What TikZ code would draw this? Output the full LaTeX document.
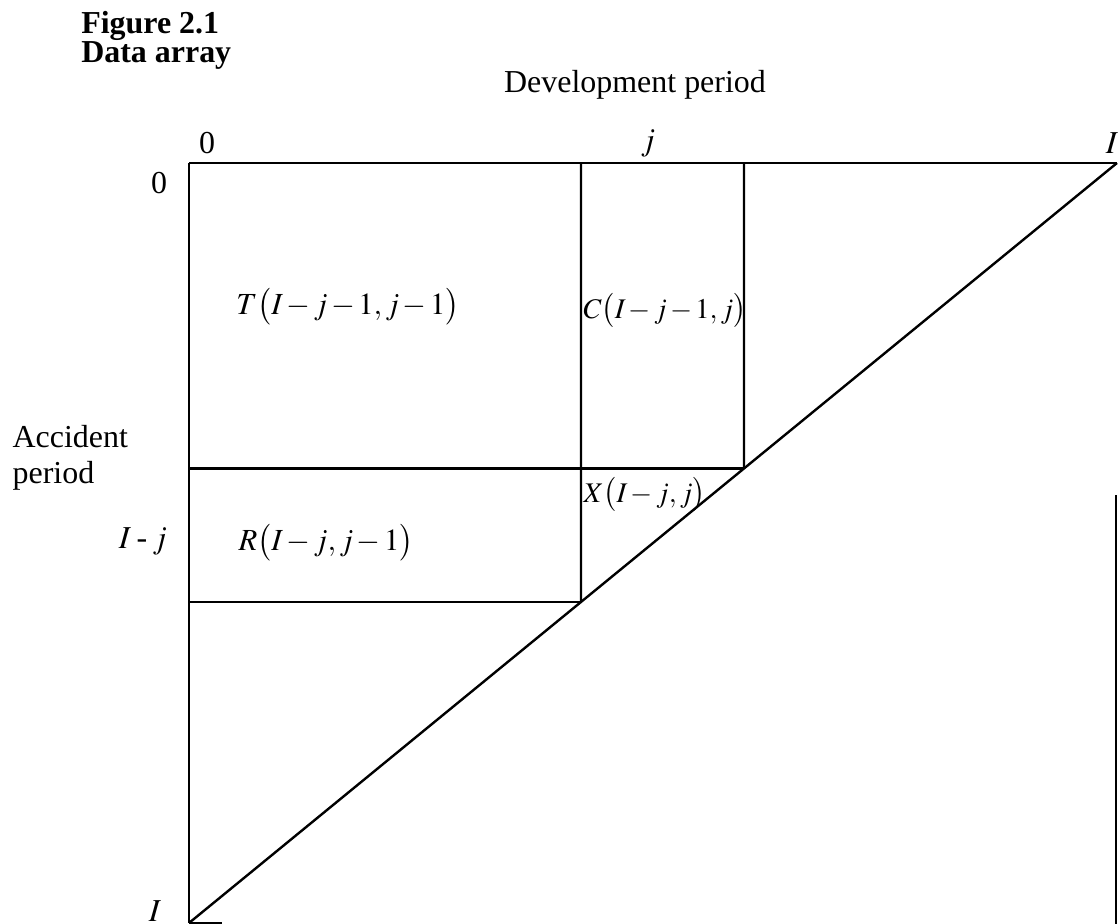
\documentclass[tikz,border=0pt]{standalone}
\usepackage{mathptmx}
\usepackage{fontspec}
\setmainfont{Liberation Serif}
\usetikzlibrary{calc}

% tighter binary minus inside the cell labels
\newcommand{\cellmath}[1]{$\medmuskip=2mu\relax #1$}

\begin{document}
\begin{tikzpicture}[
    x=0.011cm, y=-0.011cm,
    font=\fontsize{10}{12}\selectfont,
    edge/.style={draw=black, line width=0.75pt},
    title/.style={anchor=base west, font=\fontsize{10}{12}\selectfont\bfseries},
    axlbl/.style={anchor=base, inner sep=0pt},
    cell/.style={anchor=base, inner sep=0pt, font=\fontsize{9.6}{11}\selectfont},
    narrowcell/.style={cell, anchor=base west, font=\fontsize{8.9}{10}\selectfont},
]
\clip (0,0) rectangle (1118,924);
\useasboundingbox (0,0) rectangle (1118,924);

% Title
\node[title] (fig) at (70,33) {Figure 2.1};
\node[title] (arr) at (70,62) {Data array};

% === Corners of the array ===
\coordinate (o) at (189,163);
\coordinate (topI) at (1117,163);
\coordinate (botI) at (189,923);
\coordinate (cj) at (581,163);
\coordinate (cj1) at (744,163);
% points on the diagonal below column j and j+1
\coordinate (dR) at ($(botI)!0.4224!(topI)$);
\coordinate (dC) at ($(botI)!0.598!(topI)$);

% === Axis labels ===
\node[axlbl] (dev) at (635,92) {Development period};
\node[axlbl] (c0) at (207,153) {0};
\node[axlbl] (cjl) at (648,150) {$j$};
\node[axlbl] (cIl) at (1112,153) {$I$};
\node[axlbl] (r0) at (159,193) {0};
\node[anchor=base west, inner sep=0pt] (acc) at (12,447) {Accident};
\node[anchor=base west, inner sep=0pt] (per) at (12,483) {period};
\node[axlbl] (rIj) at (143,548) {$I$\,-\,$j$};
\node[axlbl] (rI) at (155,921) {$I$};

% === Lines ===
\draw[edge] (o) -- (topI);
\draw[edge] (o) -- (botI);
\draw[edge] (botI) -- (topI);
\draw[edge] (cj) -- (dR);
\draw[edge] (cj1) -- (dC);
\draw[edge] (o |- dC) -- (dC);
\draw[edge] (o |- dR) -- (dR);
\draw[edge] (botI) -- ++(33,0);
\draw[edge] (1116,495) -- (1116,924);

% === Cell labels ===
\node[cell] (tlbl) at (348,314) {\cellmath{T\bigl(I-j-1,j-1\bigr)}};
\node[narrowcell] (clbl) at (583,318) {\cellmath{C\bigl(I-j-1,j\bigr)}};
\node[narrowcell] (xlbl) at (583,502) {\cellmath{X\bigl(I-j,j\bigr)}};
\node[cell] (rlbl) at (326,550) {\cellmath{R\bigl(I-j,j-1\bigr)}};

\end{tikzpicture}
\end{document}
